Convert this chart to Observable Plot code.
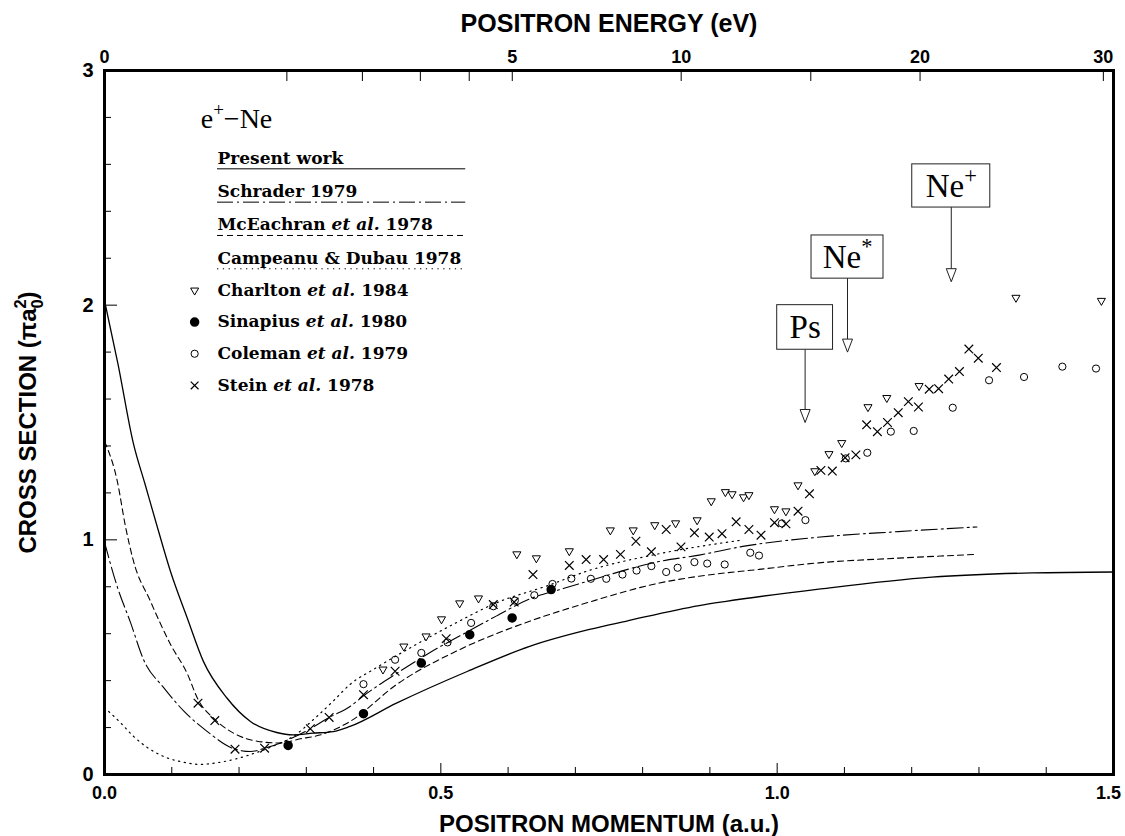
<!DOCTYPE html>
<html><head><meta charset="utf-8">
<script src="https://cdn.jsdelivr.net/npm/d3@7"></script>
<script src="https://cdn.jsdelivr.net/npm/@observablehq/plot@0.6"></script>
<style>body{margin:0;background:#fff;}</style>
</head><body><div id="chart"></div>
<script>
// ---------- data (k = positron momentum in a.u., s = cross section in pi a0^2) ----------
const presentK = [0, 0.02, 0.043, 0.06, 0.078, 0.098, 0.123, 0.147, 0.182, 0.217, 0.256, 0.28, 0.31, 0.34, 0.365, 0.434, 0.54, 0.632, 0.721, 0.775, 0.884, 0.924, 1.062, 1.23, 1.379, 1.5];
const presentS = [2.02, 1.75, 1.41, 1.24, 1.06, 0.866, 0.667, 0.482, 0.326, 0.226, 0.179, 0.169, 0.176, 0.183, 0.205, 0.304, 0.44, 0.546, 0.618, 0.653, 0.72, 0.738, 0.79, 0.841, 0.859, 0.863];

const schraderK = [0, 0.019, 0.039, 0.058, 0.088, 0.118, 0.152, 0.194, 0.217, 0.238, 0.273, 0.306, 0.334, 0.365, 0.385, 0.434, 0.484, 0.533, 0.583, 0.632, 0.677, 0.721, 0.825, 0.884, 0.949, 1.057, 1.18, 1.297];
const schraderS = [0.99, 0.80, 0.645, 0.49, 0.37, 0.27, 0.185, 0.108, 0.098, 0.112, 0.148, 0.195, 0.243, 0.29, 0.335, 0.43, 0.52, 0.598, 0.676, 0.748, 0.788, 0.826, 0.908, 0.935, 0.972, 1.01, 1.035, 1.055];

const mceachranK = [0, 0.019, 0.031, 0.043, 0.068, 0.098, 0.123, 0.139, 0.164, 0.192, 0.227, 0.261, 0.291, 0.32, 0.365, 0.434, 0.533, 0.632, 0.721, 0.825, 0.884, 0.973, 1.062, 1.18, 1.297];
const mceachranS = [1.42, 1.25, 1.06, 0.91, 0.74, 0.555, 0.43, 0.32, 0.235, 0.176, 0.142, 0.134, 0.152, 0.168, 0.226, 0.383, 0.539, 0.653, 0.735, 0.816, 0.845, 0.874, 0.902, 0.922, 0.938];

const campeanuK = [0, 0.024, 0.043, 0.068, 0.093, 0.118, 0.142, 0.167, 0.192, 0.217, 0.251, 0.281, 0.311, 0.34, 0.365, 0.40, 0.459, 0.523, 0.583, 0.657, 0.721, 0.82, 0.95];
const campeanuS = [0.285, 0.22, 0.163, 0.107, 0.071, 0.052, 0.043, 0.05, 0.064, 0.085, 0.121, 0.163, 0.235, 0.313, 0.384, 0.448, 0.547, 0.647, 0.732, 0.803, 0.87, 0.938, 1.0];

const charltonK = [0.414,0.445,0.478,0.501,0.528,0.556,0.613,0.642,0.691,0.752,0.786,0.818,0.849,0.881,0.902,0.923,0.933,0.950,0.958,0.996,1.013,1.031,1.056,1.077,1.096,1.135,1.163,1.211,1.355,1.482];
const charltonS = [0.448,0.546,0.589,0.662,0.730,0.751,0.939,0.922,0.952,1.041,1.041,1.063,1.071,1.084,1.165,1.204,1.195,1.182,1.191,1.131,1.122,1.233,1.293,1.366,1.413,1.566,1.605,1.656,2.032,2.019];

const sinapiusK = [0.273,0.385,0.471,0.543,0.606,0.664];
const sinapiusS = [0.124,0.259,0.475,0.596,0.667,0.788];

const colemanK = [0.385,0.432,0.471,0.510,0.545,0.578,0.610,0.639,0.666,0.694,0.723,0.746,0.770,0.791,0.813,0.835,0.852,0.877,0.896,0.922,0.960,0.973,1.007,1.042,1.102,1.134,1.169,1.203,1.261,1.315,1.367,1.424,1.474];
const colemanS = [0.385,0.489,0.518,0.563,0.646,0.717,0.741,0.764,0.812,0.835,0.834,0.834,0.852,0.869,0.888,0.863,0.881,0.905,0.899,0.895,0.945,0.933,1.070,1.084,1.347,1.371,1.461,1.464,1.563,1.680,1.694,1.738,1.730];

const steinK = [0.139,0.164,0.194,0.238,0.306,0.334,0.385,0.432,0.508,0.578,0.609,0.637,0.691,0.716,0.742,0.767,0.790,0.813,0.835,0.857,0.877,0.899,0.918,0.939,0.958,0.976,0.996,1.013,1.031,1.048,1.065,1.082,1.101,1.117,1.133,1.149,1.164,1.180,1.195,1.210,1.226,1.240,1.255,1.271,1.285,1.299,1.326];
const steinS = [0.304,0.230,0.108,0.112,0.195,0.243,0.340,0.440,0.579,0.724,0.735,0.852,0.891,0.916,0.916,0.938,0.994,0.949,1.044,0.970,1.030,1.012,1.026,1.077,1.044,1.020,1.073,1.068,1.122,1.196,1.296,1.293,1.350,1.362,1.490,1.461,1.500,1.542,1.589,1.566,1.642,1.644,1.685,1.717,1.813,1.774,1.734];

// thresholds (eV) marked with boxed arrows
const thresholdLabels = ["Ps", "Ne^*", "Ne^+"];
const thresholdEnergies = [14.76, 16.6, 21.56];
const arrowTipS = [1.50, 1.80, 2.10];
const boxBottomS = [1.81, 2.113, 2.416];
const boxTopS = [2.0, 2.297, 2.6];
const boxHalfWidthK = [0.0415, 0.0535, 0.058];

// ticks
const momentumLabelTicks = [0, 0.5, 1.0];
const momentumEndTick = [1.5];
const momentumMajorTicks = [0, 0.5, 1.0, 1.5];
const momentumMinorTicks = [0.1, 0.2, 0.3, 0.4, 0.6, 0.7, 0.8, 0.9, 1.1, 1.2, 1.3, 1.4];
const energyTicks = [1, 2, 3, 4, 5, 10, 15, 20, 30];
const energyLabels = [0, 5, 10, 20, 30];
const sigmaMajorTicks = [0, 1, 2, 3];
const sigmaMinorTicks = [0.2, 0.4, 0.6, 0.8, 1.2, 1.4, 1.6, 1.8, 2.2, 2.4, 2.6, 2.8];

// legend
const curveNames = ["Present work", "Schrader 1979", "McEachran et al. 1978", "Campeanu & Dubau 1978"];
const pointNames = ["Charlton et al. 1984", "Sinapius et al. 1980", "Coleman et al. 1979", "Stein et al. 1978"];

// ---------- helpers ----------
const EV_PER_K2 = 13.6057;              // E(eV) = 13.6057 k^2
const toK = e => Math.sqrt(e / EV_PER_K2);
const zip = (K, S) => K.map((k, i) => ({k, s: S[i]}));

const present = zip(presentK, presentS);
const schrader = zip(schraderK, schraderS);
const mceachran = zip(mceachranK, mceachranS);
const campeanu = zip(campeanuK, campeanuS);
const charlton = zip(charltonK, charltonS);
const sinapius = zip(sinapiusK, sinapiusS);
const coleman = zip(colemanK, colemanS);
const stein = zip(steinK, steinS);
const thresholds = thresholdLabels.map((label, i) => ({
  label, k: toK(thresholdEnergies[i]), tip: arrowTipS[i], bottom: boxBottomS[i], top: boxTopS[i], hw: boxHalfWidthK[i]
}));

const SANS = "'Liberation Sans', Arial, Helvetica, sans-serif";
const SERIF = "'Liberation Serif', 'Times New Roman', serif";
const LEGSERIF = "'DejaVu Serif', serif";

const styles = [
  {dash: null, w: 1.3},
  {dash: "16,4,2,4", w: 1.1},
  {dash: "6,4", w: 1.1},
  {dash: "1.3,4.5", w: 1.2}
];
const curves = [present, schrader, mceachran, campeanu];

const arrowHead = {draw(ctx) { ctx.moveTo(0, 0); ctx.lineTo(-5, -13); ctx.lineTo(5, -13); ctx.closePath(); }};

// legend layout (data units)
const legTextK = 0.168, legLineEndK = 0.537, legMarkK = 0.134;
const legCurveTop = 2.603, legCurveStep = 0.142, legLineGap = 0.022;
const legPointTop = 2.041, legPointStep = 0.135, legMarkLift = 0.022;

const marks = [];
curves.forEach((c, i) => marks.push(Plot.line(c, {x: "k", y: "s", curve: "monotone-x", stroke: "black", strokeWidth: styles[i].w, strokeDasharray: styles[i].dash})));

marks.push(
  Plot.dot(charlton, {x: "k", y: "s", symbol: "triangle", rotate: 180, r: 3, stroke: "black", fill: "white", strokeWidth: 1}),
  Plot.dot(coleman, {x: "k", y: "s", symbol: "circle", r: 3.6, stroke: "black", fill: "none", strokeWidth: 1}),
  Plot.dot(sinapius, {x: "k", y: "s", symbol: "circle", r: 4, stroke: "black", fill: "black"}),
  Plot.dot(stein, {x: "k", y: "s", symbol: "times", r: 4, stroke: "black", strokeWidth: 1.2})
);

// threshold annotations
marks.push(
  Plot.ruleX(thresholds, {x: "k", y1: "tip", y2: "bottom", stroke: "#222", strokeWidth: 1}),
  Plot.dot(thresholds, {x: "k", y: "tip", symbol: arrowHead, fill: "white", stroke: "#222", strokeWidth: 1}),
  Plot.rect(thresholds, {x1: d => d.k - d.hw, x2: d => d.k + d.hw, y1: "bottom", y2: "top", fill: "white", stroke: "#222", strokeWidth: 1}),
  Plot.text(thresholds, {x: "k", y: d => (d.bottom + d.top) / 2, text: "label", fontFamily: SERIF, fontSize: 33, lineAnchor: "middle"})
);

// legend
marks.push(Plot.text(["e^+−Ne"], {x: 0.143, y: 2.757, text: d => d, textAnchor: "start", lineAnchor: "bottom", fontFamily: SERIF, fontSize: 28}));
curveNames.forEach((name, i) => {
  const y = legCurveTop - i * legCurveStep;
  marks.push(
    Plot.text([name], {x: legTextK, y, text: d => d, textAnchor: "start", lineAnchor: "bottom", fontFamily: LEGSERIF, fontWeight: "bold", fontSize: 17}),
    Plot.ruleY([y - legLineGap], {x1: legTextK, x2: legLineEndK, stroke: "black", strokeWidth: 1, strokeDasharray: styles[i].dash})
  );
});
const legendSymbols = [
  {symbol: "triangle", rotate: 180, r: 3, fill: "white", stroke: "black", strokeWidth: 1},
  {symbol: "circle", r: 4, fill: "black", stroke: "black"},
  {symbol: "circle", r: 3.6, fill: "none", stroke: "black", strokeWidth: 1},
  {symbol: "times", r: 3.6, stroke: "black", strokeWidth: 1.2}
];
pointNames.forEach((name, i) => {
  const y = legPointTop - i * legPointStep;
  marks.push(
    Plot.text([name], {x: legTextK, y, text: d => d, textAnchor: "start", lineAnchor: "bottom", fontFamily: LEGSERIF, fontWeight: "bold", fontSize: 17}),
    Plot.dot([0], {x: legMarkK, y: y + legMarkLift, ...legendSymbols[i]})
  );
});

// axes (inward ticks)
const tickText = {fontFamily: SANS, fontWeight: "bold", fontSize: 18, label: null};
marks.push(
  Plot.axisX({anchor: "bottom", ticks: momentumMinorTicks, tickSize: -7, tickFormat: () => "", label: null}),
  Plot.axisX({anchor: "bottom", ticks: momentumMajorTicks, tickSize: -11, tickFormat: () => "", label: null}),
  Plot.axisX({anchor: "bottom", ticks: momentumLabelTicks, tickSize: 0, tickPadding: 12, tickFormat: d3.format(".1f"), ...tickText}),
  Plot.axisX({anchor: "bottom", ticks: momentumEndTick, tickSize: 0, tickPadding: 12, dx: -5, tickFormat: d3.format(".1f"), ...tickText}),
  Plot.axisX({anchor: "top", ticks: energyTicks.map(toK), tickSize: -10, tickFormat: () => "", label: null}),
  Plot.axisX({anchor: "top", ticks: energyLabels.map(toK), tickSize: 0, tickPadding: 8, tickFormat: k => String(Math.round(EV_PER_K2 * k * k)), ...tickText}),
  Plot.axisY({anchor: "left", ticks: sigmaMinorTicks, tickSize: -7, tickFormat: () => "", label: null}),
  Plot.axisY({anchor: "left", ticks: sigmaMajorTicks, tickSize: -13, tickFormat: () => "", label: null}),
  Plot.axisY({anchor: "left", ticks: sigmaMajorTicks, tickSize: 0, tickPadding: 11, tickFormat: d3.format("d"), ...tickText, fontSize: 20}),
  Plot.text(["POSITRON ENERGY (eV)"], {frameAnchor: "top", dy: -39, lineAnchor: "bottom", textAnchor: "middle", text: d => d, fontFamily: SANS, fontWeight: "bold", fontSize: 25}),
  Plot.text(["POSITRON MOMENTUM (a.u.)"], {frameAnchor: "bottom", dy: 57, lineAnchor: "bottom", textAnchor: "middle", text: d => d, fontFamily: SANS, fontWeight: "bold", fontSize: 24}),
  Plot.text(["CROSS SECTION (πa_0^2)"], {frameAnchor: "left", dx: -76, rotate: -90, textAnchor: "middle", lineAnchor: "middle", text: d => d, fontFamily: SANS, fontWeight: "bold", fontSize: 24}),
  Plot.frame({stroke: "black", strokeWidth: 3})
);

const plot = Plot.plot({
  width: 1125,
  height: 836,
  marginLeft: 104,
  marginRight: 12,
  marginTop: 70,
  marginBottom: 62,
  x: {domain: [0, 1.5]},
  y: {domain: [0, 3]},
  style: {background: "white", color: "black", fontFamily: SANS},
  marks
});
document.getElementById("chart").appendChild(plot);

// rich text: ^x superscript, _x subscript, italic "et al."
d3.select(plot).selectAll("text").each(function () {
  const s = this.textContent;
  if (!/[\^_]|et al\./.test(s)) return;
  let fs = 16;
  for (let n = this; n && n.getAttribute; n = n.parentNode) {
    const f = n.getAttribute("font-size");
    if (f) { fs = parseFloat(f); break; }
  }
  const parts = s.split(/(\^.|_.|et al\.)/).filter(p => p !== "");
  this.textContent = "";
  let shift = 0, prevSub = false;
  for (const p of parts) {
    const t = d3.select(this).append("tspan");
    let target = 0;
    if (p.length === 2 && p[0] === "^") {
      target = -0.42 * fs; t.attr("font-size", 0.68 * fs).text(p[1]);
      if (prevSub) t.attr("dx", -0.38 * fs);
      prevSub = false;
    } else if (p.length === 2 && p[0] === "_") {
      target = 0.28 * fs; t.attr("font-size", 0.68 * fs).text(p[1]); prevSub = true;
    } else {
      t.text(p); if (p === "et al.") t.attr("font-style", "italic"); prevSub = false;
    }
    if (target !== shift) t.attr("dy", target - shift);
    shift = target;
  }
});
</script>
</body></html>
